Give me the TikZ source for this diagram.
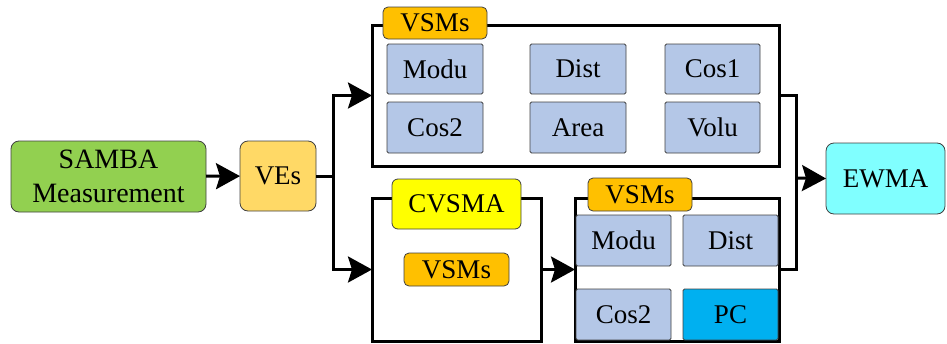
\documentclass[tikz,border=0pt]{standalone}
\usepackage{fontspec}
\setmainfont{Liberation Serif}
\newfontfamily\tnr{Liberation Serif}
\usetikzlibrary{arrows.meta}
\definecolor{cgreen}{HTML}{92D050}
\definecolor{cves}{HTML}{FFD966}
\definecolor{corange}{HTML}{FFC000}
\definecolor{cyel}{HTML}{FFFF00}
\definecolor{cblue}{HTML}{B4C7E7}
\definecolor{cpc}{HTML}{00B0F0}
\definecolor{ccyan}{HTML}{80FFFF}
\definecolor{cedge}{HTML}{404040}
\tikzset{
  x=1pt, y=-1pt,
  every node/.style={inner sep=0pt, outer sep=0pt, font=\tnr\fontsize{27}{31}\selectfont, align=center},
  rbox/.style={draw=cedge, line width=0.8pt, rounded corners=8pt},
  lbl/.style={draw=cedge, line width=0.8pt, rounded corners=5pt, fill=corange},
  cell/.style={draw=cedge, line width=0.8pt, rounded corners=1.5pt, fill=cblue},
  frame/.style={draw=black, line width=3pt},
  conn/.style={line width=3pt},
  arr/.style={conn, -{Stealth[length=24pt,width=26pt,inset=4pt]}}
}
\begin{document}
\begin{tikzpicture}
\useasboundingbox (0,0) rectangle (947,343);
% left
\node[rbox, fill=cgreen, minimum width=195pt, minimum height=71pt, font=\tnr\fontsize{28}{34}\selectfont] (samba) at (108.5,176.5) {SAMBA\\Measurement};
\node[rbox, fill=cves, minimum width=76pt, minimum height=70pt] (ves) at (278,176) {VEs};
% top frame
\node[frame, minimum width=407pt, minimum height=141pt] (top) at (575.5,95.5) {};
\node[lbl, minimum width=104pt, minimum height=32pt] (vsmA) at (435,23) {VSMs};
\node[cell, minimum width=96pt, minimum height=50pt] (moduA) at (435,69) {Modu};
\node[cell, minimum width=96pt, minimum height=50pt] (distA) at (578,69) {Dist};
\node[cell, minimum width=95pt, minimum height=50pt] (cosA) at (712.5,69) {Cos1};
\node[cell, minimum width=96pt, minimum height=51pt] (cos2A) at (435,127.5) {Cos2};
\node[cell, minimum width=96pt, minimum height=51pt] (areaA) at (578,127.5) {Area};
\node[cell, minimum width=95pt, minimum height=51pt] (voluA) at (712.5,127.5) {Volu};
% CVSMA frame
\node[frame, minimum width=169pt, minimum height=143pt] (cv) at (456.5,269.5) {};
\node[rbox, fill=cyel, rounded corners=6pt, minimum width=129pt, minimum height=50pt] (cvl) at (456.5,204) {CVSMA};
\node[lbl, minimum width=105pt, minimum height=33pt] (vsmB) at (456.5,269.5) {VSMs};
% bottom right frame
\node[frame, minimum width=204pt, minimum height=143pt] (br) at (677,269.5) {};
\node[cell, minimum width=95pt, minimum height=51pt] (moduC) at (623.5,240.5) {Modu};
\node[cell, minimum width=95pt, minimum height=51pt] (distC) at (730.5,240.5) {Dist};
\node[cell, minimum width=95pt, minimum height=51pt] (cosC) at (623.5,314.5) {Cos2};
\node[cell, fill=cpc, minimum width=95pt, minimum height=51pt] (pcC) at (730.5,314.5) {PC};
\node[lbl, minimum width=104pt, minimum height=33pt] (vsmC) at (640,194.5) {VSMs};
% right
\node[rbox, fill=ccyan, minimum width=119pt, minimum height=71pt] (ewma) at (885.5,178.5) {EWMA};
% connectors
\coordinate (split) at (333,176);
\coordinate (merge) at (796,178);
\draw[arr] (samba) -- (ves);
\draw[conn] (ves.east) -- (split);
\draw[arr] (split) |- (top.west);
\draw[arr] (split) |- (cv.west);
\draw[arr] (cv.east) -- (br.west);
\draw[conn] (top.east) -| (merge);
\draw[conn] (br.east) -| (merge);
\draw[arr] (merge) -- (ewma.west);
\end{tikzpicture}
\end{document}
